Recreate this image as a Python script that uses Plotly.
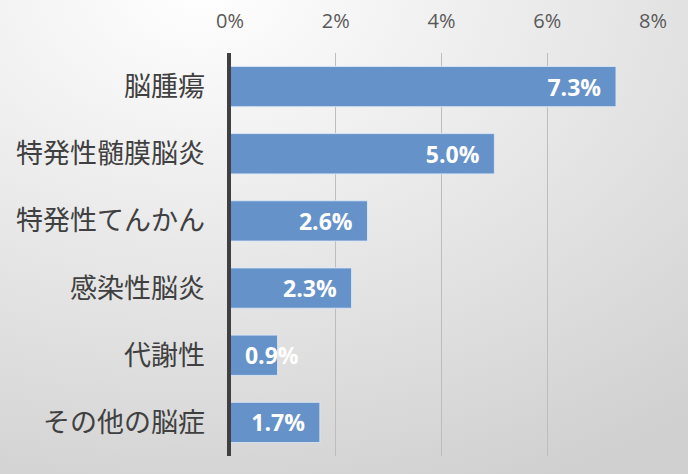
import base64
import plotly.graph_objects as go

categories = ["脳腫瘍", "特発性髄膜脳炎", "特発性てんかん", "感染性脳炎", "代謝性", "その他の脳症"]
values = [7.3, 5.0, 2.6, 2.3, 0.9, 1.7]
value_labels = ["7.3%", "5.0%", "2.6%", "2.3%", "0.9%", "1.7%"]
tick_vals = [0, 2, 4, 6, 8]
tick_text = ["0%", "2%", "4%", "6%", "8%"]

svg = (
    '<svg xmlns="http://www.w3.org/2000/svg" viewBox="0 0 100 100" preserveAspectRatio="none">'
    '<defs><radialGradient id="g" cx="0.3" cy="0" r="1.1">'
    '<stop offset="0" stop-color="#ffffff"/><stop offset="1" stop-color="#d0d0d0"/>'
    '</radialGradient></defs><rect x="0" y="0" width="100" height="100" fill="url(#g)"/></svg>'
)
bg_uri = "data:image/svg+xml;base64," + base64.b64encode(svg.encode()).decode()

NB = "\u00a0\u00a0"
fits = [v >= 1.2 for v in values]
end_text = [t + NB if f else "" for t, f in zip(value_labels, fits)]
start_text = ["" if f else NB + t for t, f in zip(value_labels, fits)]

label_font = dict(family="Open Sans, Noto Sans, sans-serif", size=23, color="white", weight="bold")

fig = go.Figure()
fig.add_trace(go.Bar(
    y=categories, x=values, orientation="h",
    marker=dict(color="#6592c8", line=dict(color="rgba(220,232,246,0.9)", width=1)),
    text=end_text, textposition="inside", insidetextanchor="end",
    constraintext="none", textfont=label_font, width=0.6, cliponaxis=False,
))
fig.add_trace(go.Bar(
    y=categories, x=values, orientation="h",
    marker=dict(color="rgba(0,0,0,0)", line=dict(width=0)),
    text=start_text, textposition="inside", insidetextanchor="start",
    constraintext="none", textfont=label_font, width=0.6, cliponaxis=False,
    hoverinfo="skip",
))

PW, PH = 423, 403
fig.update_layout(
    width=688, height=474,
    barmode="overlay",
    margin=dict(l=230, r=35, t=53, b=18),
    paper_bgcolor="#dcdcdc",
    plot_bgcolor="rgba(0,0,0,0)",
    showlegend=False,
    images=[dict(source=bg_uri, xref="paper", yref="paper",
                 x=-240/PW, y=1+63/PH, sizex=708/PW, sizey=494/PH,
                 xanchor="left", yanchor="top", sizing="stretch", layer="below")],
    xaxis=dict(
        side="top", range=[0, 8], tickvals=tick_vals, ticktext=tick_text,
        showgrid=True, gridcolor="#bdbdbd", gridwidth=1, zeroline=False,
        showline=False, ticks="", ticklabelstandoff=20, automargin=False,
        tickfont=dict(family="Open Sans, Noto Sans, sans-serif", size=20, color="#595959"),
    ),
    yaxis=dict(
        autorange="reversed", showgrid=False, zeroline=False,
        showline=False, ticks="", ticklabelstandoff=24, automargin=False,
        tickfont=dict(family="Noto Sans CJK JP, sans-serif", size=27, color="#404040"),
    ),
    shapes=[dict(type="line", xref="paper", yref="paper", x0=-1/PW, x1=-1/PW, y0=0, y1=1,
                 line=dict(color="#404040", width=4), layer="above")],
    font=dict(family="Noto Sans CJK JP, sans-serif"),
)

fig.write_html("out.html")
